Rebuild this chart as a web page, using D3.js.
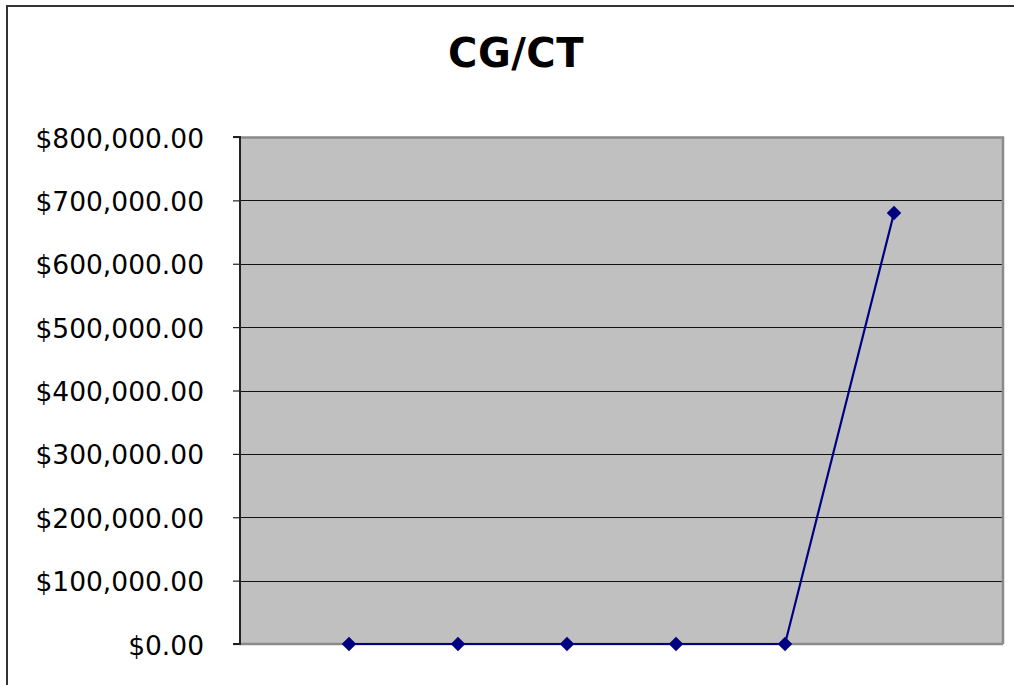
<!DOCTYPE html>
<html><head><meta charset="utf-8">
<script src="https://cdn.jsdelivr.net/npm/d3@7"></script>
<style>html,body{margin:0;padding:0;background:#fff;overflow:hidden}</style>
</head><body><svg id="c" width="1014" height="685"></svg>
<script>
const title = "CG/CT";
const categories = ["", "1", "2", "3", "4", "5", "6", ""];
const values = [null, 0, 0, 0, 0, 0, 680000, null];
const yTicks = [0, 100000, 200000, 300000, 400000, 500000, 600000, 700000, 800000];

const svg = d3.select("#c");
const font = "Verdana, 'DejaVu Sans', sans-serif";
const L = 240, R = 1003, T = 137, B = 644;

svg.append("rect").attr("x", 7).attr("y", 6).attr("width", 1030).attr("height", 700)
  .attr("fill", "#fff").attr("stroke", "#333").attr("stroke-width", 2);

svg.append("text").attr("x", 516).attr("y", 67).attr("text-anchor", "middle")
  .attr("font-family", font).attr("font-weight", "bold").attr("font-size", 40)
  .attr("letter-spacing", 0.5)
  .attr("fill", "#000").text(title);

const x = d3.scalePoint().domain(d3.range(categories.length)).range([L, R]);
const y = d3.scaleLinear().domain([0, 800000]).range([B, T]);

svg.append("rect").attr("x", L).attr("y", T).attr("width", R - L).attr("height", B - T)
  .attr("fill", "#c0c0c0");

// gridlines
svg.append("g").selectAll("line").data(yTicks.filter(d => d > 0 && d < 800000)).join("line")
  .attr("x1", L).attr("x2", R).attr("y1", d => Math.round(y(d)) + 0.5).attr("y2", d => Math.round(y(d)) + 0.5)
  .attr("stroke", "#111").attr("stroke-width", 1);

// plot border top/right
svg.append("path").attr("d", `M${L},${T + 0.5}H${R}V${B}`).attr("fill", "none")
  .attr("stroke", "#8a8a8a").attr("stroke-width", 2.5);
// bottom axis
svg.append("line").attr("x1", L).attr("x2", R).attr("y1", B).attr("y2", B)
  .attr("stroke", "#8a8a8a").attr("stroke-width", 2.5);

// y axis
const yAxis = d3.axisLeft(y).tickValues(yTicks).tickSize(7).tickPadding(29)
  .tickFormat(d => "$" + d3.format(",.2f")(d));
const ga = svg.append("g").attr("transform", `translate(${L},0)`).call(yAxis);
ga.select(".domain").attr("stroke", "#222").attr("stroke-width", 2).attr("d", `M-7,${T}H0V${B}H-7`);
ga.selectAll(".tick line").attr("stroke", "#222").attr("stroke-width", 1.2);
ga.selectAll(".tick text").attr("font-family", font).attr("font-size", 26.5)
  .attr("fill", "#000").attr("dy", "0.38em");

// line
const pts = values.map((v, i) => ({ i, v })).filter(d => d.v !== null);
const line = d3.line().x(d => x(d.i)).y(d => y(d.v));
svg.append("path").datum(pts).attr("d", line).attr("fill", "none")
  .attr("stroke", "#000080").attr("stroke-width", 2.2);

svg.append("g").selectAll("path").data(pts).join("path")
  .attr("d", d3.symbol(d3.symbolDiamond2, 135)())
  .attr("transform", d => `translate(${x(d.i)},${y(d.v)})`)
  .attr("fill", "#000080");
</script></body></html>
